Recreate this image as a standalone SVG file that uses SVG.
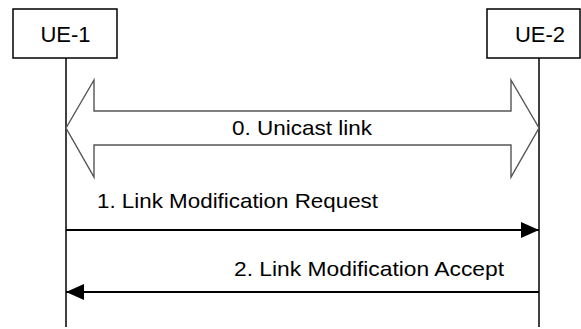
<svg xmlns="http://www.w3.org/2000/svg" width="581" height="329" viewBox="0 0 581 329">
<style>
  text { font-family: "Liberation Sans", Arial, sans-serif; font-size: 21px; fill: #000; }
  .lbl { font-size: 22px; }
  .box { fill: #fff; stroke: #000; stroke-width: 1.5; }
  .life { stroke: #000; stroke-width: 1.5; fill: none; }
  .msg { stroke: #000; stroke-width: 2; fill: none; }
</style>
<defs>
  <marker id="ah" viewBox="0 0 18 16" refX="18" refY="8" markerWidth="18" markerHeight="16" markerUnits="userSpaceOnUse" orient="auto">
    <path d="M0,0 L18,8 L0,16 Z" fill="#000"/>
  </marker>
</defs>
<rect width="581" height="329" fill="#fff"/>
<g id="ue1">
  <rect class="box" x="13" y="9" width="104" height="49"/>
  <text class="lbl" x="65.5" y="41.5" text-anchor="middle">UE-1</text>
</g>
<g id="ue2">
  <rect class="box" x="487" y="9" width="93" height="49"/>
  <text class="lbl" x="540" y="41.5" text-anchor="middle">UE-2</text>
</g>
<g id="connectors">
  <line class="life" x1="66" y1="58" x2="66" y2="327"/>
  <line class="life" x1="539" y1="58" x2="539" y2="327"/>
  <polygon points="66,128 94,80 94,111 511,111 511,80 539,128 511,177 511,145 94,145 94,177" fill="#fff" stroke="#555" stroke-width="1.4"/>
  <text x="232" y="135" textLength="140" lengthAdjust="spacingAndGlyphs">0. Unicast link</text>
  <line class="msg" x1="66" y1="230" x2="539" y2="230" marker-end="url(#ah)"/>
  <text x="97" y="207.5" textLength="281" lengthAdjust="spacingAndGlyphs">1. Link Modification Request</text>
  <line class="msg" x1="539" y1="292" x2="66" y2="292" marker-end="url(#ah)"/>
  <text x="234" y="276" textLength="270" lengthAdjust="spacingAndGlyphs">2. Link Modification Accept</text>
</g>
</svg>
